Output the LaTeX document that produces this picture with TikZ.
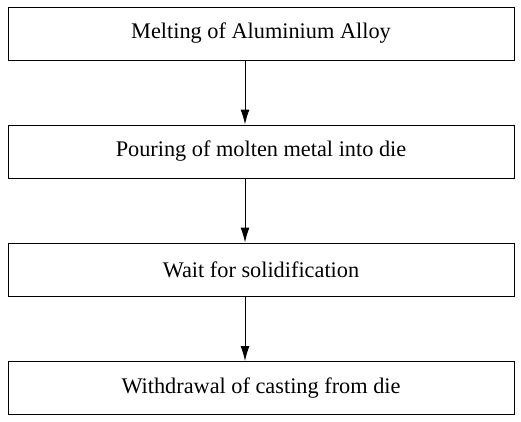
\documentclass[tikz,border=0pt]{standalone}
\usepackage{fontspec}
\setmainfont{Liberation Serif}
\usetikzlibrary{arrows.meta}

\begin{document}
\begin{tikzpicture}[x=1pt, y=1pt,
  stepbox/.style={draw, line width=1pt, minimum width=506pt, minimum height=53pt, inner sep=0pt, font=\fontsize{22.3}{26}\selectfont},
  flow/.style={line width=1pt, -{Latex[length=15pt, width=9pt]}}]
\useasboundingbox (0,0) rectangle (521,-421);
  \node[stepbox] (melt) at (261,-33.5) {Melting of Aluminium Alloy}; % step 1
  \node[stepbox] (pour) at (261,-151.5) {Pouring of molten metal into die}; % step 2
  \node[stepbox] (wait) at (261,-269.5) {Wait for solidification}; % step 3
  \node[stepbox] (withdraw) at (261,-388) {Withdrawal of casting from die}; % step 4
  \draw[flow] ([xshift=-16pt]melt.south) -- ([xshift=-16pt]pour.north); % 1 -> 2
  \draw[flow] ([xshift=-16pt]pour.south) -- ([xshift=-16pt]wait.north); % 2 -> 3
  \draw[flow] ([xshift=-16pt]wait.south) -- ([xshift=-16pt]withdraw.north); % 3 -> 4
\end{tikzpicture}
\end{document}
